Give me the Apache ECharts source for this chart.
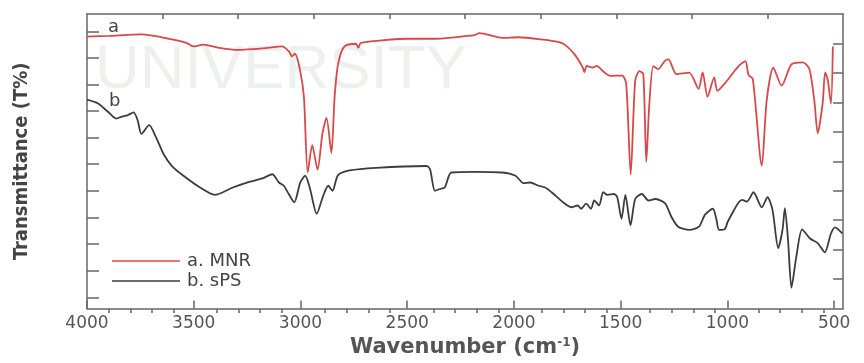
<!DOCTYPE html>
<html><head><meta charset="utf-8">
<script src="https://cdn.jsdelivr.net/npm/echarts@6/dist/echarts.min.js"></script>
<style>html,body{margin:0;padding:0;background:#fff}#c{width:864px;height:363px}</style>
</head><body><div id="c"></div>
<script>
const seriesNames = ['a. MNR', 'b. sPS'];
const mnrWavenumber = [4000,3894,3741,3649,3538,3501,3455,3386,3294,3178,3086,3054,3040,3026,3003,2984,2966,2945,2920,2897,2878,2855,2840,2824,2794,2740,2729,2717,2495,2370,2278,2186,2162,2056,1978,1862,1793,1762,1716,1678,1670,1659,1632,1613,1577,1548,1493,1474,1453,1432,1412,1394,1380,1366,1347,1324,1293,1276,1239,1179,1135,1116,1093,1062,1047,1008,947,916,901,881,839,816,785,746,700,647,616,593,577,554,542,530,515,506];
const mnrTransmittance = [92.3,92.6,93.1,92.1,90.3,89.0,89.6,88.6,87.8,88.3,89.0,87.3,85.6,86.5,81.3,72.0,46.2,55.5,47.2,59.5,64.7,52.8,71.9,82.9,89.0,89.9,88.5,90.2,91.6,91.6,92.1,92.8,93.5,91.9,92.1,91.3,90.5,89.6,86.3,81.9,80.2,82.4,81.8,82.4,80.2,79.0,79.1,76.3,45.5,77.4,80.6,79.6,49.8,69.2,82.3,81.3,84.1,84.6,79.6,80.1,74.6,80.2,71.9,78.5,73.9,76.8,82.4,84.0,79.3,77.9,48.5,70.7,81.8,75.7,82.9,83.6,81.3,70.7,59.5,69.6,80.2,77.6,69.6,89.0];
const spsWavenumber = [4000,3948,3902,3863,3840,3809,3782,3763,3745,3709,3678,3640,3602,3548,3470,3401,3317,3240,3178,3132,3101,3078,3055,3029,3001,2978,2955,2924,2893,2870,2850,2824,2770,2647,2408,2393,2370,2347,2324,2293,2186,2055,1993,1955,1924,1885,1854,1824,1770,1732,1701,1685,1662,1639,1624,1601,1582,1562,1531,1516,1496,1478,1454,1432,1401,1370,1339,1293,1262,1231,1178,1133,1105,1068,1052,1039,1013,999,970,947,931,908,878,839,812,789,762,742,731,716,700,677,650,613,577,544,515,496,462];
const spsTransmittance = [70.9,69.6,66.8,64.5,65.1,65.7,66.6,64.0,59.3,62.3,58.4,52.3,48.4,45.1,41.1,38.6,41.1,43.0,44.2,45.6,42.8,41.7,38.9,36.1,42.8,45.1,40.6,32.2,38.4,41.7,40.0,45.3,46.9,47.8,48.4,47.3,40.0,40.6,41.1,46.2,46.4,46.2,45.1,42.6,42.8,41.7,41.1,39.5,36.1,34.4,35.0,33.9,35.6,33.9,36.7,35.0,39.5,38.6,38.9,37.8,30.5,38.6,28.3,37.2,38.9,36.7,37.2,35.8,31.1,27.8,26.7,27.8,31.9,33.9,30.4,26.7,26.9,29.4,33.3,36.1,36.9,36.3,39.5,34.4,37.8,33.6,20.5,26.7,34.1,23.3,7.1,17.7,26.9,23.8,22.2,19.1,25.5,27.6,25.5];
const xTickLabels = [4000,3500,3000,2500,2000,1500,1000,500];
const xMinorTicks = [3900,3800,3700,3600,3400,3300,3200,3100,2900,2800,2700,2600,2400,2300,2200,2100,1900,1800,1700,1600,1400,1300,1200,1100,900,800,700,600];
const leftTicks = [3.8,12.8,21.9,30.9,39.9,49.0,58.0,67.0,76.0,85.1,94.1];
const rightTicks = [10,20,30,40,50,60,70,80,90];
const topTicks = [1,2,3,4,5,6,7,8,9];
const curveLabels = ['a', 'b'];

const axisColor = '#666';
const zip = (xs, ys) => xs.map((x, i) => [x, ys[i]]);

const chart = echarts.init(document.getElementById('c'));
chart.setOption({
  animation: false,
  backgroundColor: '#fff',
  grid: [
    {left: 87, right: 10, top: 14, bottom: 50},
    {left: 87, right: 10, top: 14, bottom: 50}
  ],
  legend: {
    data: seriesNames.map(n => ({name: n, icon: 'rect'})),
    orient: 'vertical',
    left: 107, top: 247,
    itemWidth: 68, itemHeight: 1.6, itemGap: 2,
    textStyle: {fontFamily: 'DejaVu Sans', fontSize: 18, color: '#444', padding: [0, 0, 0, 2]}
  },
  graphic: [
    {type: 'text', left: 95, top: 40, z: 0, silent: true,
     style: {text: 'UNIVERSITY', fontFamily: 'Liberation Sans', fontSize: 62, fill: 'rgba(190,205,190,0.28)'}},
    {type: 'text', left: 108, top: 18, style: {text: curveLabels[0], fontFamily: 'DejaVu Sans', fontSize: 18, fill: '#444'}},
    {type: 'text', left: 109, top: 92, style: {text: curveLabels[1], fontFamily: 'DejaVu Sans', fontSize: 18, fill: '#444'}}
  ],
  xAxis: [
    {type: 'value', gridIndex: 0, position: 'bottom', min: 458, max: 4000, inverse: true,
     axisLine: {show: true, onZero: false, lineStyle: {color: axisColor, width: 1.5}},
     axisTick: {show: true, inside: true, length: 8, customValues: xTickLabels, lineStyle: {color: axisColor, width: 1.5}},
     axisLabel: {show: true, customValues: xTickLabels, formatter: v => String(v), margin: 6, fontFamily: 'DejaVu Sans', fontSize: 17, color: '#555'},
     splitLine: {show: false},
     name: 'Wavenumber (cm{sup|-1})', nameLocation: 'middle', nameGap: 27,
     nameTextStyle: {fontFamily: 'DejaVu Sans', fontWeight: 'bold', fontSize: 21, color: '#555',
       rich: {sup: {fontFamily: 'DejaVu Sans', fontWeight: 'bold', fontSize: 12, color: '#555', verticalAlign: 'top', padding: [0, 0, 10, 0]}}}},
    {type: 'value', gridIndex: 0, position: 'top', min: 0, max: 10,
     axisLine: {show: true, onZero: false, lineStyle: {color: axisColor, width: 1.5}},
     axisTick: {show: true, inside: true, length: 5, customValues: topTicks, lineStyle: {color: axisColor, width: 1.5}},
     axisLabel: {show: false}, splitLine: {show: false}},
    {type: 'value', gridIndex: 1, position: 'bottom', min: 458, max: 4000, inverse: true,
     axisLine: {show: false, onZero: false},
     axisTick: {show: true, inside: true, length: 4, customValues: xMinorTicks, lineStyle: {color: axisColor, width: 1.5}},
     axisLabel: {show: false}, splitLine: {show: false}}
  ],
  yAxis: [
    {type: 'value', gridIndex: 0, position: 'left', min: 0, max: 100,
     axisLine: {show: true, onZero: false, lineStyle: {color: axisColor, width: 1.5}},
     axisTick: {show: true, inside: true, length: 12, customValues: leftTicks, lineStyle: {color: axisColor, width: 1.5}},
     axisLabel: {show: false}, splitLine: {show: false},
     name: 'Transmittance (T%)', nameLocation: 'middle', nameGap: 55,
     nameTextStyle: {fontFamily: "'Liberation Sans Narrow', 'DejaVu Sans Condensed', 'Liberation Sans'", fontWeight: 'bold', fontSize: 20, color: '#444'}},
    {type: 'value', gridIndex: 0, position: 'right', min: 0, max: 100,
     axisLine: {show: true, onZero: false, lineStyle: {color: axisColor, width: 1.5}},
     axisTick: {show: true, inside: true, length: 10, customValues: rightTicks, lineStyle: {color: axisColor, width: 1.5}},
     axisLabel: {show: false}, splitLine: {show: false}},
    {type: 'value', gridIndex: 1, min: 0, max: 100, show: false}
  ],
  series: [
    {name: seriesNames[0], type: 'line', xAxisIndex: 0, yAxisIndex: 0, data: zip(mnrWavenumber, mnrTransmittance),
     symbol: 'none', smooth: 0.25, color: '#d94848', lineStyle: {width: 1.8, color: '#d94848'}, z: 3},
    {name: seriesNames[1], type: 'line', xAxisIndex: 0, yAxisIndex: 0, data: zip(spsWavenumber, spsTransmittance),
     symbol: 'none', smooth: 0.25, color: '#3c3c3c', lineStyle: {width: 1.8, color: '#3c3c3c'}, z: 2}
  ]
});
</script>
</body></html>
